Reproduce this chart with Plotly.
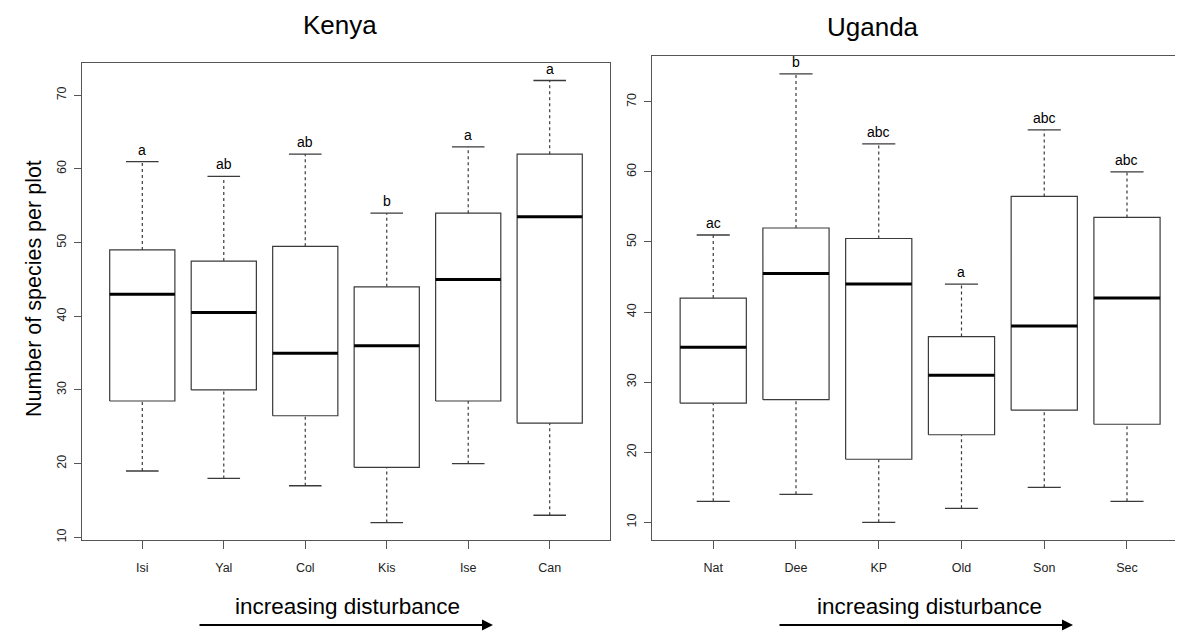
import plotly.graph_objects as go

# ---------------- data ----------------
kenya_sites = ["Isi", "Yal", "Col", "Kis", "Ise", "Can"]
kenya_low = [19, 18, 17, 12, 20, 13]
kenya_q1 = [28.5, 30, 26.5, 19.5, 28.5, 25.5]
kenya_median = [43, 40.5, 35, 36, 45, 53.5]
kenya_q3 = [49, 47.5, 49.5, 44, 54, 62]
kenya_high = [61, 59, 62, 54, 63, 72]
kenya_letters = ["a", "ab", "ab", "b", "a", "a"]

uganda_sites = ["Nat", "Dee", "KP", "Old", "Son", "Sec"]
uganda_low = [13, 14, 10, 12, 15, 13]
uganda_q1 = [27, 27.5, 19, 22.5, 26, 24]
uganda_median = [35, 45.5, 44, 31, 38, 42]
uganda_q3 = [42, 52, 50.5, 36.5, 56.5, 53.5]
uganda_high = [51, 74, 64, 44, 66, 60]
uganda_letters = ["ac", "b", "abc", "a", "abc", "abc"]

y_ticks = [10, 20, 30, 40, 50, 60, 70]

FONT = "Liberation Sans, Arial, sans-serif"
OFF = 8                      # page body margin
W, H = 1183 - OFF, 632 - OFF  # figure size that fits the window
LINE = "#3a3a3a"


def px(x):
    return (x - OFF) / W


def py(y):
    return 1 - (y - OFF) / H


fig = go.Figure()


def add_panel(sites, low, q1, med, q3, high, letters, xa, ya):
    xb, yb, xw, yw, xc, yc, xm, ym = [], [], [], [], [], [], [], []
    for i in range(len(sites)):
        c = i + 1
        xb += [c - 0.4, c + 0.4, c + 0.4, c - 0.4, c - 0.4, None]
        yb += [q1[i], q1[i], q3[i], q3[i], q1[i], None]
        xw += [c, c, None, c, c, None]
        yw += [low[i], q1[i], None, q3[i], high[i], None]
        xc += [c - 0.2, c + 0.2, None, c - 0.2, c + 0.2, None]
        yc += [low[i], low[i], None, high[i], high[i], None]
        xm += [c - 0.4, c + 0.4, None]
        ym += [med[i], med[i], None]
    common = dict(xaxis=xa, yaxis=ya, mode="lines", showlegend=False, hoverinfo="skip")
    fig.add_trace(go.Scatter(x=xw, y=yw, line=dict(color=LINE, width=1.2, dash="3px,3px"), **common))
    fig.add_trace(go.Scatter(x=xc, y=yc, line=dict(color=LINE, width=1.3), **common))
    fig.add_trace(go.Scatter(x=xb, y=yb, line=dict(color=LINE, width=1.2), **common))
    fig.add_trace(go.Scatter(x=xm, y=ym, line=dict(color="black", width=3), **common))
    for i, lab in enumerate(letters):
        fig.add_annotation(x=i + 1, y=high[i], xref=xa, yref=ya, text=lab, showarrow=False,
                           xanchor="center", yanchor="bottom", yshift=2,
                           font=dict(family=FONT, size=14, color="black"))


add_panel(kenya_sites, kenya_low, kenya_q1, kenya_median, kenya_q3, kenya_high, kenya_letters, "x", "y")
add_panel(uganda_sites, uganda_low, uganda_q1, uganda_median, uganda_q3, uganda_high, uganda_letters, "x2", "y2")

ax_common = dict(showgrid=False, zeroline=False, showline=True, linecolor="#555", linewidth=1.3,
                 ticks="outside", tickcolor="#555", tickwidth=1,
                 tickfont=dict(family=FONT, size=12.5, color="#222"))

bottom = py(542)
u_range_hi = 0.26 + (1183 - 652) / 82.75

fig.update_layout(
    width=W, height=H, margin=dict(l=0, r=0, t=0, b=0),
    paper_bgcolor="white", plot_bgcolor="white",
    xaxis=dict(domain=[px(82), px(610)], range=[0.26, 6.74], tickvals=list(range(1, 7)),
               ticktext=kenya_sites, mirror=True, anchor="y", ticklen=8, ticklabelstandoff=8,
               **ax_common),
    yaxis=dict(domain=[bottom, py(63)], range=[9.6, 74.4], tickvals=y_ticks, tickangle=-90,
               mirror=True, anchor="x", ticklen=7, ticklabelstandoff=3, **ax_common),
    xaxis2=dict(domain=[px(652), 1.0], range=[0.26, u_range_hi], tickvals=list(range(1, 7)),
                ticktext=uganda_sites, mirror=True, anchor="y2", ticklen=8, ticklabelstandoff=8,
                **ax_common),
    yaxis2=dict(domain=[bottom, py(56)], range=[7.44, 76.56], tickvals=y_ticks, tickangle=-90,
                anchor="x2", ticklen=7, ticklabelstandoff=3, **ax_common),
)

# titles
fig.add_annotation(x=px(340), y=py(25), xref="paper", yref="paper", text="Kenya", showarrow=False,
                   xanchor="center", yanchor="middle", font=dict(family=FONT, size=26, color="black"))
fig.add_annotation(x=px(873), y=py(27), xref="paper", yref="paper", text="Uganda", showarrow=False,
                   xanchor="center", yanchor="middle", font=dict(family=FONT, size=26, color="black"))
# y label
fig.add_annotation(x=px(34), y=py(290), xref="paper", yref="paper", text="Number of species per plot",
                   textangle=-90, showarrow=False, xanchor="center", yanchor="middle",
                   font=dict(family=FONT, size=21.5, color="black"))

# disturbance labels and arrows
for cx, x0, x1 in [(347, 198, 493), (929, 778, 1073)]:
    fig.add_annotation(x=px(cx), y=py(608), xref="paper", yref="paper", text="increasing disturbance",
                       showarrow=False, xanchor="center", yanchor="middle",
                       font=dict(family=FONT, size=22.5, color="black"))
    fig.add_annotation(x=px(x1), y=py(627), xref="paper", yref="paper",
                       ax=-(x1 - x0), ay=0, axref="pixel", ayref="pixel", text="", showarrow=True,
                       arrowhead=2, arrowsize=1, arrowwidth=2.2, arrowcolor="black")

fig.write_html("out.html")
